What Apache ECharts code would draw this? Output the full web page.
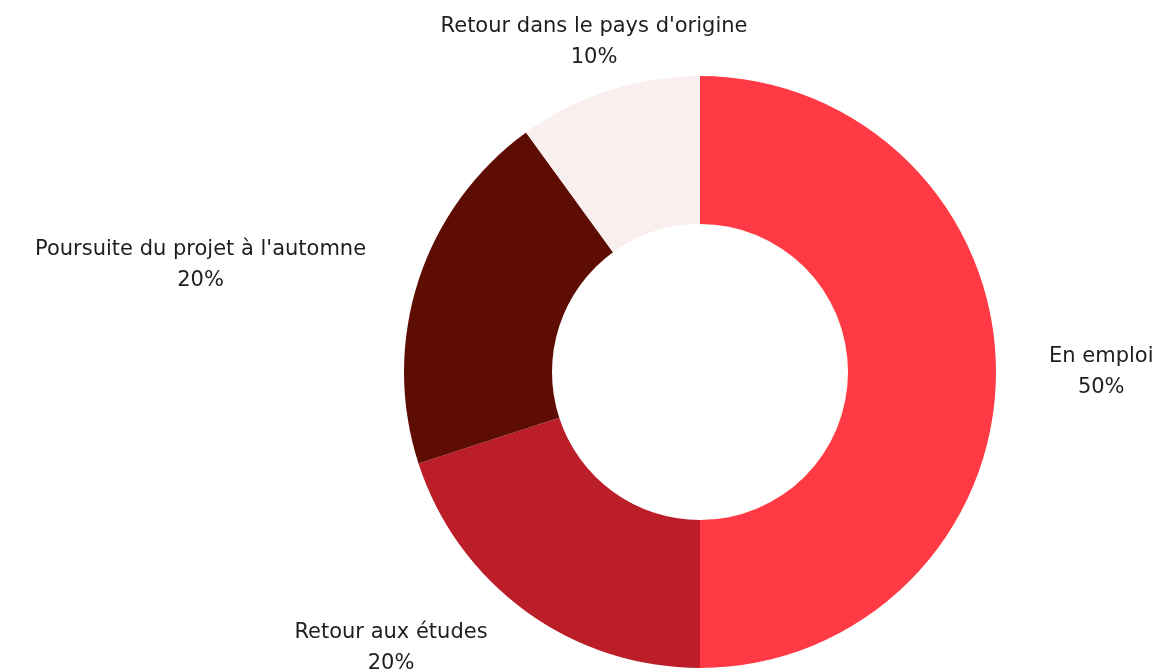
<!DOCTYPE html>
<html>
<head>
    <meta charset="utf-8">
    <title>Situation</title>
    <script src="https://cdn.jsdelivr.net/npm/echarts@6/dist/echarts.min.js"></script>
    <style>
        html, body { margin: 0; padding: 0; background: #ffffff; }
        #chart { width: 1158px; height: 670px; }
    </style>
</head>
<body>
<div id="chart"></div>
<script>
    // categories and values (percent)
    var categories = ['En emploi', 'Retour aux études', "Poursuite du projet à l'automne", "Retour dans le pays d'origine"];
    var values = [50, 20, 20, 10];
    var colors = ['#FF3A44', '#BB1E29', '#5E0D02', '#F9EFEE'];

    var myChart = echarts.init(document.getElementById('chart'));

    var pieData = [];
    for (var i = 0; i < categories.length; i++) {
        pieData.push({ name: categories[i], value: values[i], itemStyle: { color: colors[i] } });
    }

    var option = {
        backgroundColor: '#ffffff',
        animation: false,
        series: [{
            type: 'pie',
            center: [700, 372],
            radius: [148, 296],
            startAngle: 90,
            clockwise: true,
            avoidLabelOverlap: false,
            label: {
                show: true,
                position: 'outside',
                formatter: '{b}\n{c}%',
                fontFamily: 'DejaVu Sans',
                fontSize: 21,
                lineHeight: 31,
                color: '#1e1e1e'
            },
            labelLine: { show: false, length: 12, length2: 36 },
            labelLayout: function (params) {
                var r = params.labelRect;
                // top slice label sits centred above the ring
                if (params.dataIndex === 3) {
                    return { x: 594, y: 42, align: 'center', verticalAlign: 'middle' };
                }
                if (params.dataIndex === 1) {
                    return { x: 391, y: 648, align: 'center', verticalAlign: 'middle' };
                }
                // centre the two lines inside the label box
                return { x: r.x + r.width / 2, y: r.y + r.height / 2 - (params.dataIndex === 2 ? 12 : 0), align: 'center', verticalAlign: 'middle' };
            },
            data: pieData
        }]
    };

    myChart.setOption(option);
</script>
</body>
</html>
